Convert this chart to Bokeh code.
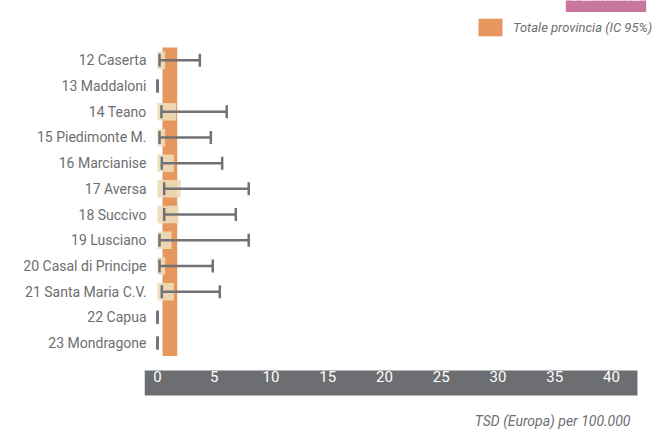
from bokeh.plotting import figure
from bokeh.models import (Range1d, FixedTicker, Whisker, TeeHead, ColumnDataSource,
                          Legend, LegendItem, BoxAnnotation, Label)
from bokeh.embed import file_html
from bokeh.resources import INLINE

# ---- data ----
districts = ["12 Caserta", "13 Maddaloni", "14 Teano", "15 Piedimonte M.",
             "16 Marcianise", "17 Aversa", "18 Succivo", "19 Lusciano",
             "20 Casal di Principe", "21 Santa Maria C.V.", "22 Capua", "23 Mondragone"]
rate = [0.68, 0.0, 1.65, 0.68, 1.44, 2.05, 1.85, 1.23, 0.68, 1.44, 0.0, 0.0]
ci_low = [0.18, 0.0, 0.35, 0.18, 0.38, 0.59, 0.59, 0.18, 0.18, 0.38, 0.0, 0.0]
ci_high = [3.73, 0.0, 6.10, 4.70, 5.70, 8.04, 6.90, 8.04, 4.87, 5.49, 0.0, 0.0]
province_low = 0.44
province_high = 1.74
x_ticks = [0, 5, 10, 15, 20, 25, 30, 35, 40]
x_title = "TSD (Europa) per 100.000"
legend_label = "Totale provincia (IC 95%)"
sex_label = "FEMMINE"

FONT = "Roboto"
GRAY = "#6d6e71"
ORANGE = "#e5975e"
BEIGE = "#eedab7"
WHISK = "#707275"
PINK = "#c9779f"

rows = list(range(len(districts)))
n = len(districts)

p = figure(width=654, height=433, output_backend="svg", toolbar_location=None,
           x_range=Range1d(-1.145, 43.79), y_range=Range1d(n + 2.52, -2.329),
           min_border_left=144, min_border_right=0, min_border_top=0, min_border_bottom=0)
p.outline_line_color = None
p.xgrid.visible = False
p.ygrid.visible = False

# grey axis band
p.add_layout(BoxAnnotation(right=42.29, top=n + 0.07, bottom=n + 1.04, fill_color=GRAY,
                           fill_alpha=1, line_color=None, level="underlay"))

# province band
prov = p.quad(left=[province_low], right=[province_high], top=[-0.5], bottom=[n - 0.5],
              fill_color=ORANGE, line_color=None)

# district rate boxes
src = ColumnDataSource(dict(y=rows, rate=rate, lo=ci_low, hi=ci_high,
                            top=[r - 0.34 for r in rows], bottom=[r + 0.34 for r in rows],
                            zero=[0.0] * n))
p.quad(left="zero", right="rate", top="top", bottom="bottom", source=src,
       fill_color=BEIGE, fill_alpha=0.92, line_color=None)

w = Whisker(source=src, base="y", lower="lo", upper="hi", dimension="width",
            line_color=WHISK, line_width=2.5, level="overlay",
            upper_head=TeeHead(size=13, line_color=WHISK, line_width=2.5),
            lower_head=TeeHead(size=13, line_color=WHISK, line_width=2.5))
p.add_layout(w)

# y axis (district labels)
p.yaxis.ticker = FixedTicker(ticks=rows)
p.yaxis.major_label_overrides = {i: d for i, d in zip(rows, districts)}
p.yaxis.axis_line_color = None
p.yaxis.major_tick_line_color = None
p.yaxis.minor_tick_line_color = None
p.yaxis.major_tick_out = 0
p.yaxis.major_tick_in = 0
p.yaxis.major_label_standoff = -2
p.yaxis.major_label_text_font = FONT
p.yaxis.major_label_text_font_size = "14px"
p.yaxis.major_label_text_color = GRAY

# x axis (labels drawn inside the grey band)
p.xaxis.ticker = FixedTicker(ticks=x_ticks)
p.xaxis.axis_line_color = None
p.xaxis.major_tick_line_color = None
p.xaxis.minor_tick_line_color = None
p.xaxis.major_tick_out = 0
p.xaxis.major_tick_in = 0
p.xaxis.major_label_standoff = -63
p.xaxis.major_label_text_font = FONT
p.xaxis.major_label_text_font_size = "15px"
p.xaxis.major_label_text_color = "white"

# x-axis title
p.add_layout(Label(x=486, y=13, x_units="screen", y_units="screen", text=x_title,
                   text_align="right", text_baseline="middle", text_font=FONT,
                   text_font_style="italic", text_font_size="14px", text_color=GRAY))

legend = Legend(items=[LegendItem(label=legend_label, renderers=[prov])],
                location=(331, 395), orientation="horizontal",
                glyph_width=30, glyph_height=22, label_standoff=8, padding=0, margin=0,
                border_line_alpha=0, background_fill_alpha=0,
                label_text_font=FONT, label_text_font_style="italic",
                label_text_font_size="13px", label_text_color=GRAY)
p.add_layout(legend)

p.add_layout(Label(x=461.5, y=421.5, x_units="screen", y_units="screen", text=sex_label,
                   text_align="center", text_baseline="bottom", text_color="white",
                   text_font=FONT, text_font_style="bold", text_font_size="15px",
                   background_fill_color=PINK, padding=7))

open("out.html", "w").write(file_html(p, INLINE))
